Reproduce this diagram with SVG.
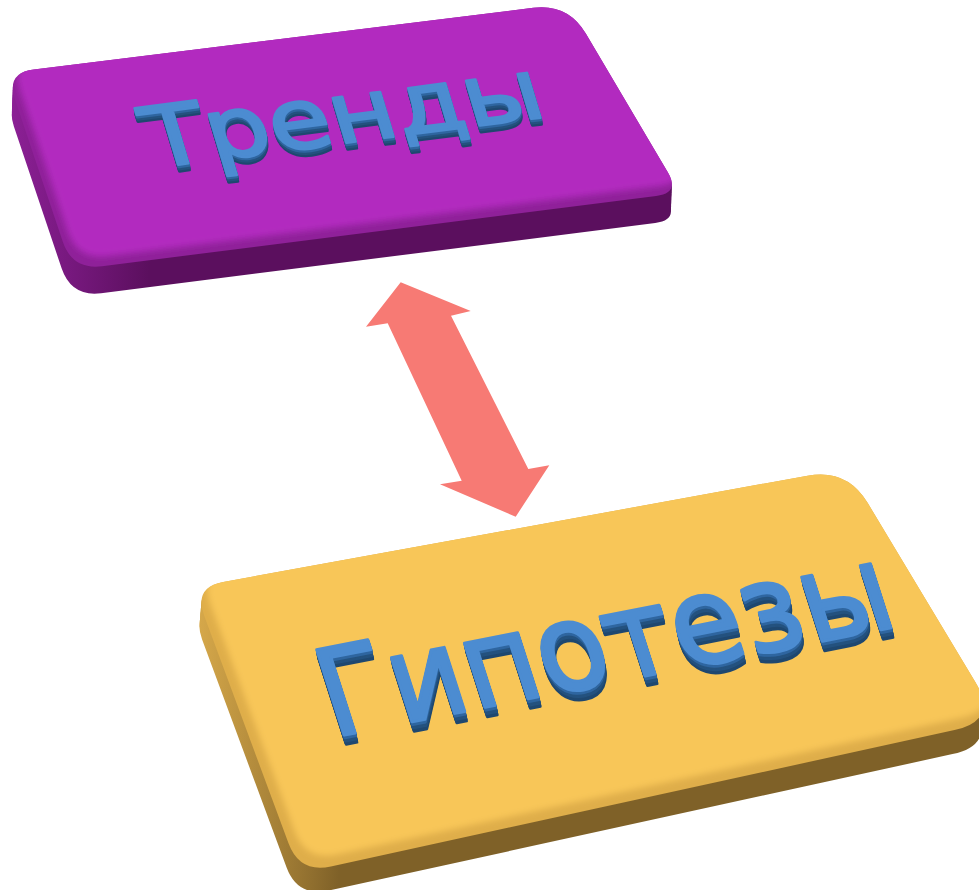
<svg xmlns="http://www.w3.org/2000/svg" xmlns:xlink="http://www.w3.org/1999/xlink" width="979" height="890" viewBox="0 0 979 890">
<defs>
<style>
.lbl{font-family:"DejaVu Sans","Liberation Sans",sans-serif;}
.frontT{fill:#4C8CD1;stroke:#4C8CD1;stroke-width:2.4;stroke-linejoin:round}
.frontG{fill:#4C8CD1;stroke:#4C8CD1;stroke-width:3;stroke-linejoin:round}
.ext1{fill:#1F4870;stroke:#1F4870;stroke-width:2.4;stroke-linejoin:round}
.ext2{fill:#24527F;stroke:#24527F;stroke-width:2.4;stroke-linejoin:round}
.ext3{fill:#2F66A0;stroke:#2F66A0;stroke-width:2.4;stroke-linejoin:round}
.sP{fill:url(#sideP)}
.sY{fill:url(#sideY)}
</style>
<path id="faceP" d="M33.8,69.6 L533.3,7.8 Q568,3.5 585.8,33.6 L667.8,172.3 Q680,193 656.2,196 L102.1,266.2 Q72.3,270 62.7,241.6 L14.9,99.5 Q6,73 33.8,69.6 Z"/>
<path id="faceY" d="M223.2,581.9 L807.6,475.7 Q847,468.5 867.6,502.8 L975.3,681.9 Q998.5,720.5 954.5,730.1 L330.9,866.5 Q299.6,873.3 288.5,843.3 L204.1,615.4 Q193.7,587.3 223.2,581.9 Z"/>
<clipPath id="clipP"><use xlink:href="#faceP"/></clipPath>
<clipPath id="clipY"><use xlink:href="#faceY"/></clipPath>
<linearGradient id="sideP" gradientUnits="userSpaceOnUse" x1="10" y1="0" x2="150" y2="0">
<stop offset="0" stop-color="#8C2096"/><stop offset="1" stop-color="#5B0F5E"/>
</linearGradient>
<linearGradient id="sideY" gradientUnits="userSpaceOnUse" x1="200" y1="0" x2="340" y2="0">
<stop offset="0" stop-color="#D6A84A"/><stop offset="1" stop-color="#7F6128"/>
</linearGradient>
<filter id="soft" x="-5%" y="-5%" width="110%" height="110%"><feGaussianBlur stdDeviation="3"/></filter>
<text id="tT" class="lbl" x="0" y="0" font-size="82" textLength="396" lengthAdjust="spacingAndGlyphs">Тренды</text>
<text id="tG" class="lbl" x="-6" y="0" font-size="117" textLength="568" lengthAdjust="spacingAndGlyphs">Гипотезы</text>
</defs>

<g id="connectors">
<polygon points="400.7,282.3 470.7,311 451,315.7 528.3,469 549.3,465.3 515.7,516.7 440,484.3 461.7,480.7 387.7,323.3 366,326.7" fill="#F77A74"/>
</g>

<g id="node-trendy">
<g class="sP">
<use xlink:href="#faceP" transform="translate(-1,27)"/>
<use xlink:href="#faceP" transform="translate(-0.9,24.3)"/>
<use xlink:href="#faceP" transform="translate(-0.8,21.6)"/>
<use xlink:href="#faceP" transform="translate(-0.7,18.9)"/>
<use xlink:href="#faceP" transform="translate(-0.6,16.2)"/>
<use xlink:href="#faceP" transform="translate(-0.5,13.5)"/>
<use xlink:href="#faceP" transform="translate(-0.4,10.8)"/>
<use xlink:href="#faceP" transform="translate(-0.3,8.1)"/>
<use xlink:href="#faceP" transform="translate(-0.2,5.4)"/>
<use xlink:href="#faceP" transform="translate(-0.1,2.7)"/>
</g>
<use xlink:href="#faceP" fill="#8F2199"/>
<g clip-path="url(#clipP)">
<use xlink:href="#faceP" fill="#B22BBF" transform="translate(5,-10)" filter="url(#soft)"/>
</g>
<g transform="matrix(1,-0.13,0.3,1,153,168)">
<use xlink:href="#tT" class="ext1" transform="translate(-0.7,6.6)"/>
<use xlink:href="#tT" class="ext1" transform="translate(-0.6,5.5)"/>
<use xlink:href="#tT" class="ext2" transform="translate(-0.45,4.4)"/>
<use xlink:href="#tT" class="ext2" transform="translate(-0.35,3.3)"/>
<use xlink:href="#tT" class="ext3" transform="translate(-0.25,2.2)"/>
<use xlink:href="#tT" class="ext3" transform="translate(-0.1,1.1)"/>
<use xlink:href="#tT" class="frontT"/>
</g>
</g>

<g id="node-gipotezy">
<g class="sY">
<use xlink:href="#faceY" transform="translate(-2,24)"/>
<use xlink:href="#faceY" transform="translate(-1.8,21.6)"/>
<use xlink:href="#faceY" transform="translate(-1.6,19.2)"/>
<use xlink:href="#faceY" transform="translate(-1.4,16.8)"/>
<use xlink:href="#faceY" transform="translate(-1.2,14.4)"/>
<use xlink:href="#faceY" transform="translate(-1,12)"/>
<use xlink:href="#faceY" transform="translate(-0.8,9.6)"/>
<use xlink:href="#faceY" transform="translate(-0.6,7.2)"/>
<use xlink:href="#faceY" transform="translate(-0.4,4.8)"/>
<use xlink:href="#faceY" transform="translate(-0.2,2.4)"/>
</g>
<use xlink:href="#faceY" fill="#DFAE4A"/>
<g clip-path="url(#clipY)">
<use xlink:href="#faceY" fill="#F8C659" transform="translate(6,-12)" filter="url(#soft)"/>
</g>
<g transform="matrix(1,-0.196,0.32,1,339,736)">
<use xlink:href="#tG" class="ext1" transform="translate(-1,9.5)"/>
<use xlink:href="#tG" class="ext1" transform="translate(-0.9,8.4)"/>
<use xlink:href="#tG" class="ext1" transform="translate(-0.8,7.3)"/>
<use xlink:href="#tG" class="ext2" transform="translate(-0.7,6.2)"/>
<use xlink:href="#tG" class="ext2" transform="translate(-0.55,5.1)"/>
<use xlink:href="#tG" class="ext2" transform="translate(-0.45,4)"/>
<use xlink:href="#tG" class="ext3" transform="translate(-0.3,2.9)"/>
<use xlink:href="#tG" class="ext3" transform="translate(-0.2,1.8)"/>
<use xlink:href="#tG" class="ext3" transform="translate(-0.1,0.8)"/>
<use xlink:href="#tG" class="frontG"/>
</g>
</g>
</svg>
